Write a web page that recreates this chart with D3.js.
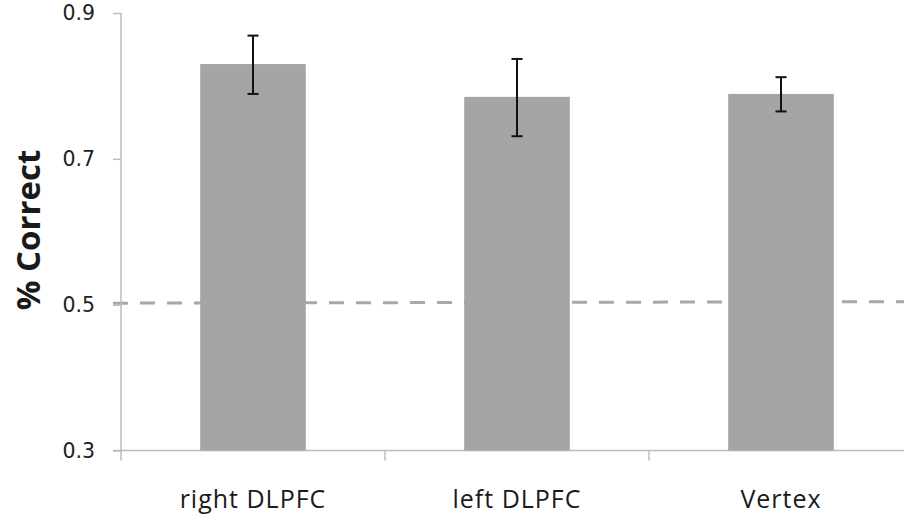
<!DOCTYPE html>
<html>
<head>
<meta charset="utf-8">
<script src="https://cdn.jsdelivr.net/npm/d3@7"></script>
<style>
  body { margin: 0; background: #fff; }
  svg { display: block; }
</style>
</head>
<body>
<div id="chart"></div>
<script>
    // values
    var categories = ['right DLPFC', 'left DLPFC', 'Vertex'];
    var means = [0.830, 0.785, 0.789];
    var errLow = [0.789, 0.731, 0.765];
    var errHigh = [0.869, 0.837, 0.812];
    var yTicks = [0.3, 0.5, 0.7, 0.9];
    var chance = 0.5;

    var width = 904,
        height = 516;

    var svg = d3.select('#chart')
        .append('svg')
        .attr('width', width)
        .attr('height', height);

    var x = d3.scaleBand()
        .domain(categories)
        .range([121, 913])
        .padding(0);

    var y = d3.scaleLinear()
        .domain([0.3, 0.9])
        .range([450.5, 13]);

    var barW = x.bandwidth() * 0.4;
    var axisColor = '#bdbdbd';

    // chance level, behind the bars
    svg.append('line')
        .attr('x1', 113)
        .attr('x2', width)
        .attr('y1', y(chance) - 1.5)
        .attr('y2', y(chance) - 3)
        .attr('stroke', '#a8a8a8')
        .attr('stroke-width', 3)
        .attr('stroke-dasharray', '15 12');

    // y axis
    var yAxis = svg.append('g')
        .attr('transform', 'translate(121,0)')
        .call(d3.axisLeft(y).tickValues(yTicks).tickSize(8).tickPadding(18)
            .tickFormat(d3.format('.1f')));
    yAxis.select('.domain').attr('stroke', axisColor).attr('stroke-width', 1.5)
        .attr('d', 'M0,' + y(0.9) + 'V' + y(0.3));
    yAxis.selectAll('.tick line').attr('stroke', axisColor).attr('stroke-width', 1.5);
    yAxis.selectAll('.tick text')
        .attr('fill', '#222')
        .style('font-family', '"DejaVu Sans", sans-serif')
        .style('font-size', '20.5px');

    // x axis
    var xAxis = svg.append('g')
        .attr('transform', 'translate(0,' + y(0.3) + ')');
    xAxis.append('line')
        .attr('x1', 113).attr('x2', width)
        .attr('stroke', axisColor).attr('stroke-width', 1.5);
    var bounds = categories.map(function (c) { return x(c); });
    xAxis.selectAll('.xtick')
        .data(bounds)
        .enter()
        .append('line')
        .attr('x1', function (d) { return d; })
        .attr('x2', function (d) { return d; })
        .attr('y1', 0)
        .attr('y2', 10)
        .attr('stroke', axisColor).attr('stroke-width', 1.5);
    xAxis.selectAll('.xlabel')
        .data(categories)
        .enter()
        .append('text')
        .attr('x', function (d) { return x(d) + x.bandwidth() / 2; })
        .attr('y', 57.5)
        .attr('text-anchor', 'middle')
        .attr('fill', '#1a1a1a')
        .style('font-family', '"Open Sans", sans-serif')
        .style('font-size', '25px')
        .style('letter-spacing', '1px')
        .text(function (d) { return d; });

    // bars
    svg.selectAll('.bar')
        .data(categories)
        .enter()
        .append('rect')
        .attr('x', function (d) { return x(d) + (x.bandwidth() - barW) / 2; })
        .attr('y', function (d, i) { return y(means[i]); })
        .attr('width', barW)
        .attr('height', function (d, i) { return y(0.3) - y(means[i]); })
        .attr('fill', '#a5a5a5');

    // error bars
    var eb = svg.selectAll('.err')
        .data(categories)
        .enter()
        .append('g')
        .attr('stroke', '#111')
        .attr('stroke-width', 2);
    eb.append('line')
        .attr('x1', function (d) { return x(d) + x.bandwidth() / 2; })
        .attr('x2', function (d) { return x(d) + x.bandwidth() / 2; })
        .attr('y1', function (d, i) { return y(errHigh[i]); })
        .attr('y2', function (d, i) { return y(errLow[i]); });
    [errHigh, errLow].forEach(function (arr) {
        eb.append('line')
            .attr('x1', function (d) { return x(d) + x.bandwidth() / 2 - 5.5; })
            .attr('x2', function (d) { return x(d) + x.bandwidth() / 2 + 5.5; })
            .attr('y1', function (d, i) { return y(arr[i]); })
            .attr('y2', function (d, i) { return y(arr[i]); });
    });

    // y title
    svg.append('text')
        .attr('transform', 'translate(40,230) rotate(-90)')
        .attr('text-anchor', 'middle')
        .attr('fill', '#1a1a1a')
        .style('font-family', '"Open Sans", sans-serif')
        .style('font-weight', 'bold')
        .style('font-size', '33px')
        .text('% Correct');
</script>
</body>
</html>
